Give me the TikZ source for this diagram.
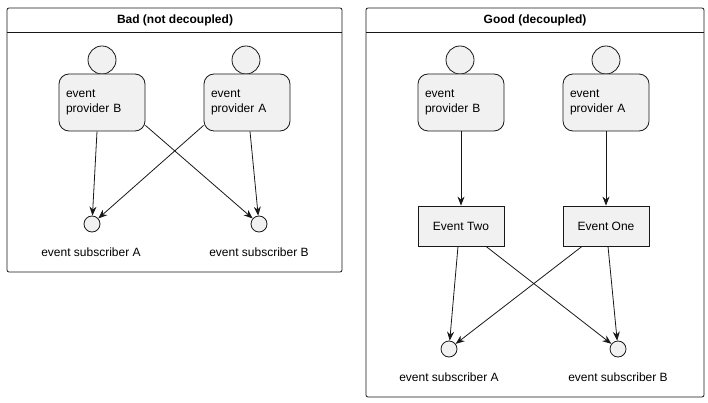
\documentclass[tikz,border=0pt]{standalone}
\usepackage{fontspec}
\setmainfont{Liberation Sans}
\usetikzlibrary{arrows.meta}
\definecolor{pfill}{HTML}{F1F1F1}
\definecolor{pline}{HTML}{181818}
\tikzset{
  frame/.style={draw=pline,rounded corners=2pt,line width=0.8pt},
  head/.style={draw=pline,fill=pfill,circle,minimum size=28pt,inner sep=0pt},
  body/.style={draw=pline,fill=pfill,rounded corners=10pt,minimum width=86pt,minimum height=57pt,align=left,text width=72pt,inner sep=0pt},
  event/.style={draw=pline,fill=pfill,minimum width=86pt,minimum height=40pt},
  sub/.style={draw=pline,fill=pfill,circle,minimum size=16pt,inner sep=0pt},
  lbl/.style={font=\fontsize{12}{14}\selectfont},
  conn/.style={-{Stealth[length=9pt,width=7pt]},draw=pline}
}
\begin{document}
\begin{tikzpicture}[x=1pt,y=-1pt,font=\fontsize{12}{15}\selectfont,line width=0.8pt]
\useasboundingbox (0,0) rectangle (708,403);
% bad
\draw[frame] (7,8) rectangle (342,272);
\draw[pline] (7,32) -- (342,32);
\node[font=\fontsize{12}{14}\selectfont\bfseries] (badt) at (175,20) {Bad (not decoupled)};
\node[head] (bhB) at (102,60) {};
\node[body] (bpB) at (102,102.5) {event\\provider B};
\node[head] (bhA) at (246,60) {};
\node[body] (bpA) at (247,102.5) {event\\provider A};
\node[sub] (bsA) at (92,224) {};
\node[sub] (bsB) at (259,224) {};
\node[lbl] (bsAl) at (91,252) {event subscriber A};
\node[lbl] (bsBl) at (259,252) {event subscriber B};
\draw[conn] (bpB.south -| 97,0) -- (bsA);
\draw[conn] (bpB.south east) ++(0,-6) -- (bsB);
\draw[conn] (bpA.south west) ++(0,-6) -- (bsA);
\draw[conn] (bpA.south -| 250,0) -- (bsB);
% good
\draw[frame] (366,8) rectangle (704,397);
\draw[pline] (366,32) -- (704,32);
\node[font=\fontsize{12}{14}\selectfont\bfseries] (goodt) at (535,20) {Good (decoupled)};
\node[head] (ghB) at (460,60) {};
\node[body] (gpB) at (461,102.5) {event\\provider B};
\node[head] (ghA) at (606,60) {};
\node[body] (gpA) at (606,102.5) {event\\provider A};
\node[event] (etwo) at (461,226) {Event Two};
\node[event] (eone) at (606,226) {Event One};
\node[sub] (gsA) at (449,349) {};
\node[sub] (gsB) at (618,349) {};
\node[lbl] (gsAl) at (449,377) {event subscriber A};
\node[lbl] (gsBl) at (618,377) {event subscriber B};
\draw[conn] (gpB) -- (etwo);
\draw[conn] (gpA) -- (eone);
\draw[conn] (etwo.south -| 458,0) -- (gsA);
\draw[conn] (etwo.south -| 486,0) -- (gsB);
\draw[conn] (eone.south -| 582,0) -- (gsA);
\draw[conn] (eone.south -| 608,0) -- (gsB);
\end{tikzpicture}
\end{document}
